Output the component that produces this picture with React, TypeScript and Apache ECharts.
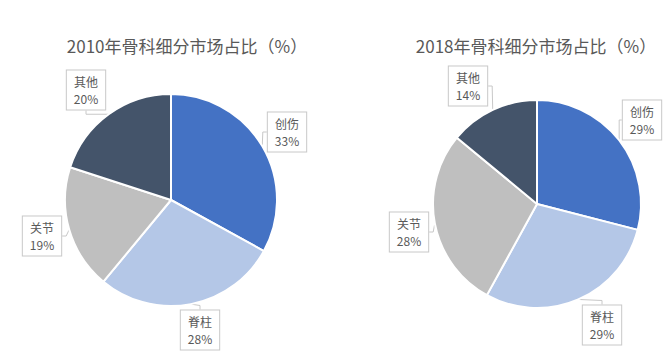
import React, { useEffect, useRef } from "react";
import * as echarts from "echarts";

const categories = ["创伤", "脊柱", "关节", "其他"];
const values2010 = [33, 28, 19, 20];
const values2018 = [29, 29, 28, 14];
const titles = ["2010年骨科细分市场占比（%）", "2018年骨科细分市场占比（%）"];
const colors = ["#4472C4", "#B4C7E7", "#BFBFBF", "#44546A"];

const labelPos2010 = [
  [287, 132],
  [200, 330],
  [42, 236],
  [86, 90],
];
const labelPos2018 = [
  [642, 120],
  [602, 325],
  [409, 232],
  [468, 86],
];

function makeSeries(values: number[], center: [number, number], radius: number, pos: number[][]) {
  return {
    type: "pie",
    center,
    radius,
    startAngle: 90,
    clockwise: true,
    data: categories.map((name, i) => ({ name, value: values[i], itemStyle: { color: colors[i] } })),
    itemStyle: { borderColor: "#ffffff", borderWidth: 2 },
    label: {
      show: true,
      position: "outside",
      formatter: "{b}\n{c}%",
      fontFamily: "Noto Sans CJK SC",
      fontSize: 12,
      lineHeight: 17,
      color: "#595959",
      backgroundColor: "#ffffff",
      borderColor: "#c8c8c8",
      borderWidth: 1,
      padding: [3, 7, 2, 7],
      align: "center",
      overflow: "none",
      edgeDistance: 0,
      bleedMargin: 0,
    },
    labelLine: { show: true, length: 4, length2: 4, lineStyle: { color: "#c8c8c8", width: 1 } },
    labelLayout: (params: any) => {
      const p = pos[params.dataIndex];
      return { x: p[0], y: p[1], align: "center", verticalAlign: "middle" };
    },
    emphasis: { disabled: true },
  };
}

export default function App() {
  const ref = useRef<HTMLDivElement>(null);
  useEffect(() => {
    document.body.style.margin = "0";
    const chart = echarts.init(ref.current!, null, { renderer: "svg" });
    chart.setOption({
      animation: false,
      backgroundColor: "#ffffff",
      title: [
        {
          text: titles[0],
          left: 182,
          top: 32,
          textAlign: "center",
          textStyle: { fontFamily: "Noto Sans CJK SC", fontSize: 17, fontWeight: "normal", color: "#595959" },
        },
        {
          text: titles[1],
          left: 531,
          top: 32,
          textAlign: "center",
          textStyle: { fontFamily: "Noto Sans CJK SC", fontSize: 17, fontWeight: "normal", color: "#595959" },
        },
      ],
      series: [
        makeSeries(values2010, [171, 200], 106, labelPos2010),
        makeSeries(values2018, [537, 204], 104, labelPos2018),
      ],
    });
    return () => chart.dispose();
  }, []);
  return <div ref={ref} style={{ width: 672, height: 358 }} />;
}
